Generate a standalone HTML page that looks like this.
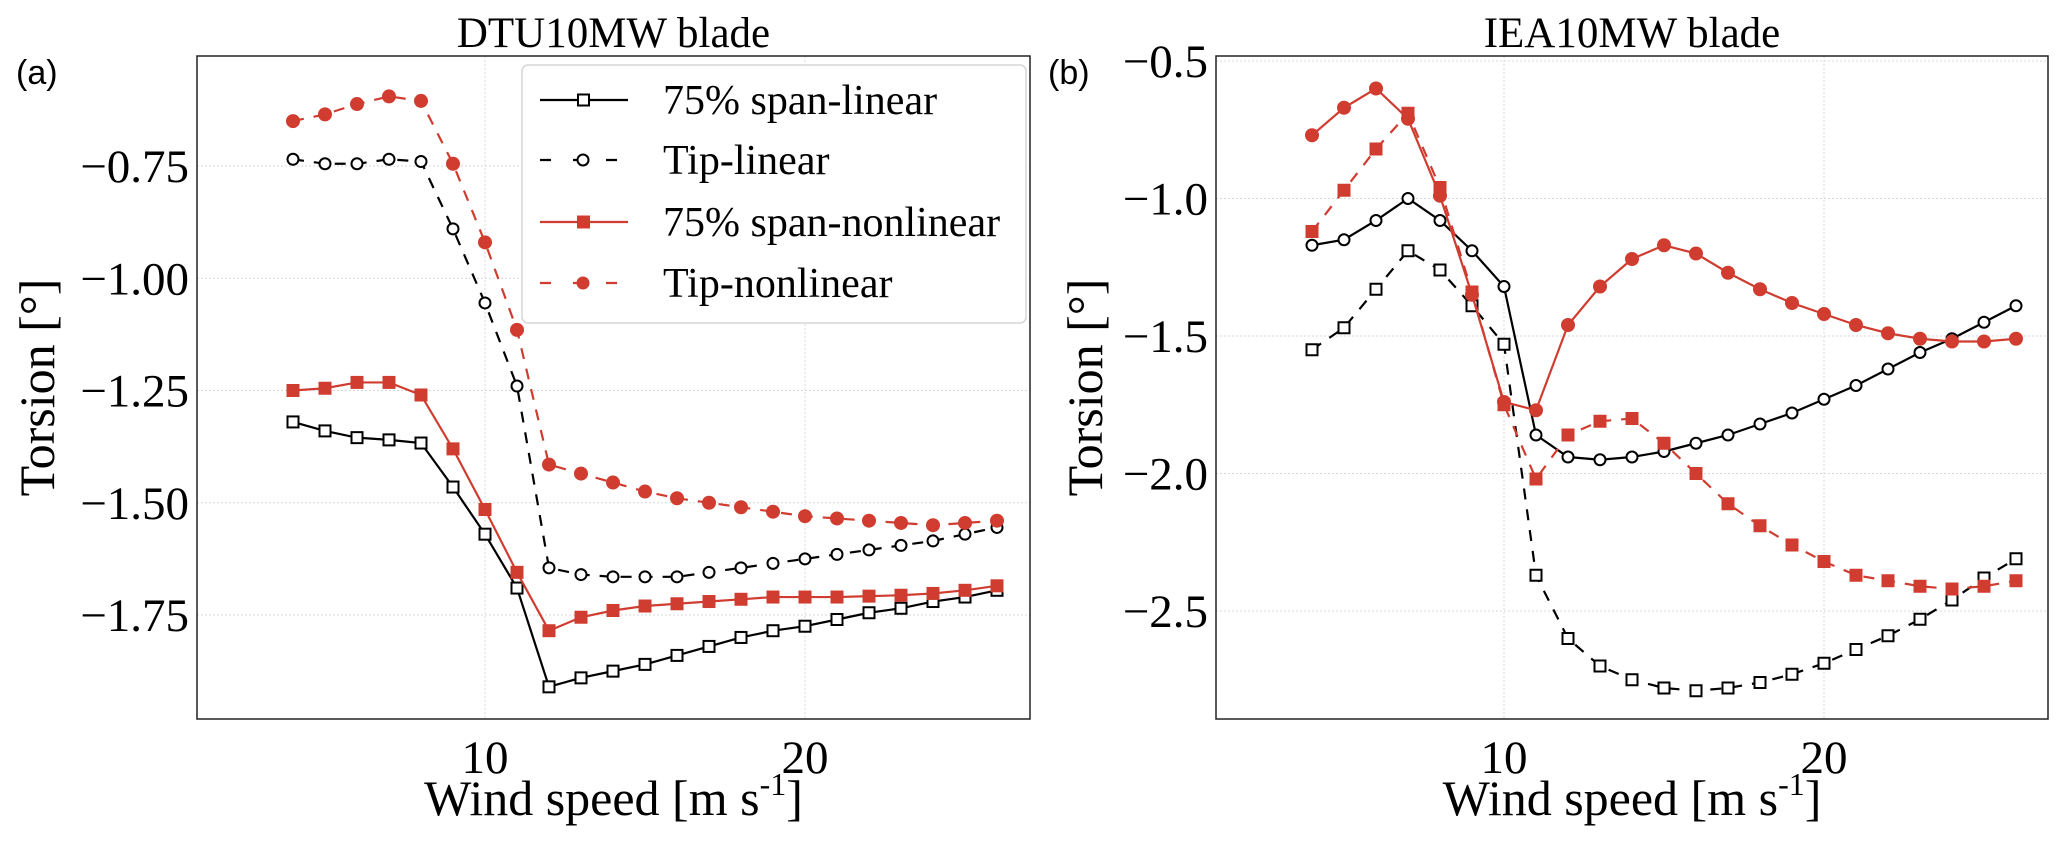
<!DOCTYPE html>
<html><head><meta charset="utf-8"><style>
html,body{margin:0;padding:0;background:#fff;}
svg{display:block;font-family:"Liberation Serif",serif;}
</style></head><body>
<svg id="s" width="2067" height="841" viewBox="0 0 2067 841" xmlns="http://www.w3.org/2000/svg"></svg>
<script>
const S=document.getElementById('s');let h='';
const R='#d03c2f';
function panel(p){
  const X=v=>p.x0+v*32, Y=v=>p.y0-(v-p.yr)*p.py;
  for(const t of [10,20]) h+=`<line x1="${X(t)}" y1="${p.t}" x2="${X(t)}" y2="${p.b}" stroke="#d8d8d8" stroke-width="1" stroke-dasharray="2,2"/>`;
  for(const t of p.yt) h+=`<line x1="${p.l}" y1="${Y(t)}" x2="${p.r}" y2="${Y(t)}" stroke="#d8d8d8" stroke-width="1" stroke-dasharray="2,2"/>`;
  for(const s of p.ser){
    const pts=s.d.map((v,i)=>[X(4+i),Y(v)]);
    h+=`<polyline points="${pts.map(q=>q.join(',')).join(' ')}" fill="none" stroke="${s.c}" stroke-width="2.2" ${s.dash?'stroke-dasharray="11,10"':''}/>`;
    for(const [a,b] of pts){
      if(s.m=='s') h+=`<rect x="${a-5.5}" y="${b-5.5}" width="11" height="11" fill="${s.f?s.c:'#fff'}" stroke="${s.c}" stroke-width="2"/>`;
      else h+=`<circle cx="${a}" cy="${b}" r="${s.f?6:5.5}" fill="${s.f?s.c:'#fff'}" stroke="${s.c}" stroke-width="2"/>`;
    }
  }
  h+=`<rect x="${p.l}" y="${p.t}" width="${p.r-p.l}" height="${p.b-p.t}" fill="none" stroke="#222" stroke-width="1.5"/>`;
  for(const t of [10,20]) h+=`<text x="${X(t)}" y="${p.b+54}" font-size="47" text-anchor="middle">${t}</text>`;
  for(const t of p.yt) h+=`<text x="${p.l-8}" y="${Y(t)+16}" font-size="47" text-anchor="end">${p.fmt(t)}</text>`;
  h+=`<text x="${(p.l+p.r)/2}" y="47" font-size="43" text-anchor="middle">${p.title}</text>`;
  h+=`<text x="${(p.l+p.r)/2}" y="815" font-size="50" text-anchor="middle">Wind speed [m s<tspan dy="-20" font-size="32">-1</tspan><tspan dy="20">]</tspan></text>`;
  h+=`<text transform="translate(${p.yl},${(p.t+p.b)/2}) rotate(-90)" font-size="50" text-anchor="middle">Torsion [°]</text>`;
  h+=`<text x="${p.lab[0]}" y="${p.lab[1]}" font-size="34" font-family="Liberation Sans, sans-serif">${p.lt}</text>`;
}
const f2=t=>'−'+Math.abs(t).toFixed(2), f1=t=>'−'+Math.abs(t).toFixed(1);
panel({x0:165,l:197,r:1030,t:56,b:719,yr:-0.75,y0:166,py:449,yt:[-0.75,-1,-1.25,-1.5,-1.75],fmt:f2,title:'DTU10MW  blade',yl:54,lab:[16,84],lt:'(a)',
ser:[
{c:'#000',m:'s',f:0,dash:0,d:[-1.32,-1.34,-1.355,-1.36,-1.367,-1.465,-1.57,-1.69,-1.91,-1.89,-1.875,-1.86,-1.84,-1.82,-1.80,-1.785,-1.775,-1.76,-1.745,-1.735,-1.72,-1.71,-1.695]},
{c:'#000',m:'c',f:0,dash:1,d:[-0.735,-0.745,-0.745,-0.735,-0.74,-0.89,-1.055,-1.24,-1.645,-1.66,-1.665,-1.665,-1.665,-1.655,-1.645,-1.635,-1.625,-1.615,-1.605,-1.595,-1.585,-1.57,-1.555]},
{c:R,m:'s',f:1,dash:0,d:[-1.25,-1.245,-1.232,-1.232,-1.26,-1.38,-1.515,-1.655,-1.785,-1.755,-1.74,-1.73,-1.725,-1.72,-1.715,-1.71,-1.71,-1.71,-1.708,-1.706,-1.702,-1.695,-1.685]},
{c:R,m:'c',f:1,dash:1,d:[-0.65,-0.635,-0.612,-0.595,-0.605,-0.745,-0.92,-1.115,-1.415,-1.435,-1.455,-1.475,-1.49,-1.5,-1.51,-1.52,-1.53,-1.535,-1.54,-1.545,-1.55,-1.545,-1.54]}
]});
panel({x0:1184,l:1216,r:2048,t:56,b:719,yr:-0.5,y0:61,py:275,yt:[-0.5,-1,-1.5,-2,-2.5],fmt:f1,title:'IEA10MW  blade',yl:1102,lab:[1048,84],lt:'(b)',
ser:[
{c:'#000',m:'c',f:0,dash:0,d:[-1.17,-1.15,-1.08,-1.0,-1.08,-1.19,-1.32,-1.86,-1.94,-1.95,-1.94,-1.92,-1.89,-1.86,-1.82,-1.78,-1.73,-1.68,-1.62,-1.56,-1.51,-1.45,-1.39]},
{c:'#000',m:'s',f:0,dash:1,d:[-1.55,-1.47,-1.33,-1.19,-1.26,-1.39,-1.53,-2.37,-2.60,-2.70,-2.75,-2.78,-2.79,-2.78,-2.76,-2.73,-2.69,-2.64,-2.59,-2.53,-2.46,-2.38,-2.31]},
{c:R,m:'c',f:1,dash:0,d:[-0.77,-0.67,-0.6,-0.71,-0.99,-1.35,-1.74,-1.77,-1.46,-1.32,-1.22,-1.17,-1.2,-1.27,-1.33,-1.38,-1.42,-1.46,-1.49,-1.51,-1.52,-1.52,-1.51]},
{c:R,m:'s',f:1,dash:1,d:[-1.12,-0.97,-0.82,-0.69,-0.96,-1.34,-1.75,-2.02,-1.86,-1.81,-1.80,-1.89,-2.0,-2.11,-2.19,-2.26,-2.32,-2.37,-2.39,-2.41,-2.42,-2.41,-2.39]}
]});
h+=`<rect x="522" y="65" width="504" height="258" rx="6" fill="#fff" fill-opacity="0.92" stroke="#d6d6d6" stroke-width="1.5"/>`;
const L=[['75% span-linear','#000','s',0,0,100],['Tip-linear','#000','c',0,1,160],['75% span-nonlinear',R,'s',1,0,222],['Tip-nonlinear',R,'c',1,1,283]];
for(const [t,c,m,f,d,y] of L){
  h+=`<line x1="540" y1="${y}" x2="628" y2="${y}" stroke="${c}" stroke-width="2.2" ${d?'stroke-dasharray="11,22"':''}/>`;
  if(m=='s') h+=`<rect x="578" y="${y-5.5}" width="11" height="11" fill="${f?c:'#fff'}" stroke="${c}" stroke-width="2"/>`;
  else h+=`<circle cx="583" cy="${y}" r="5.5" fill="${f?c:'#fff'}" stroke="${c}" stroke-width="2"/>`;
  h+=`<text x="663" y="${y+14}" font-size="42">${t}</text>`;
}
S.innerHTML=h;
</script>
</body></html>
